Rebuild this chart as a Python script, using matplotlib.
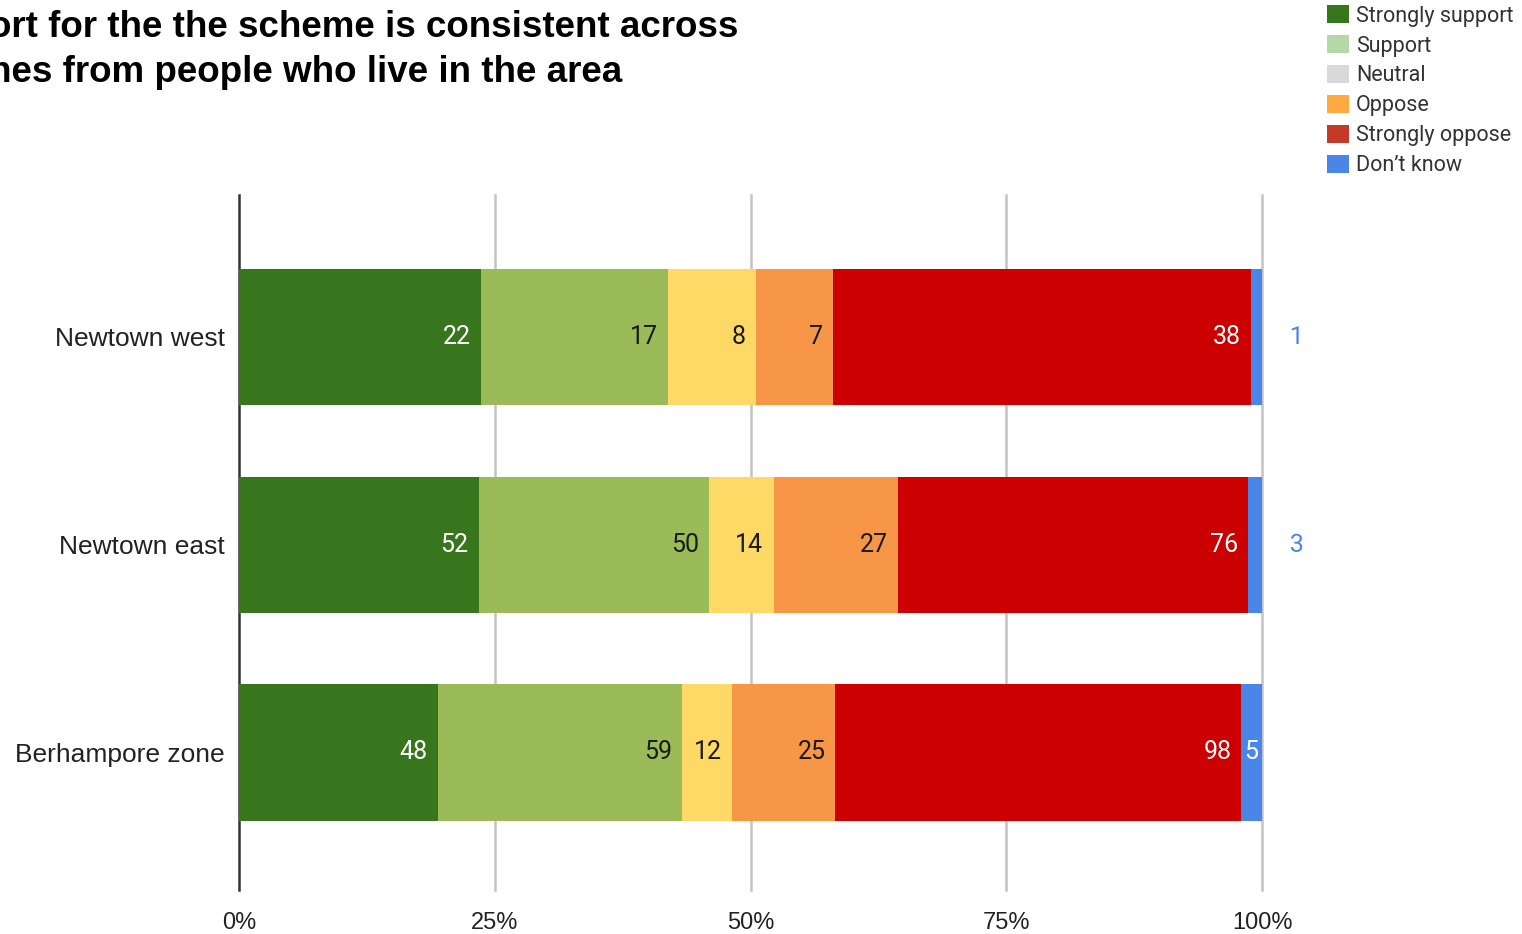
import matplotlib
matplotlib.use('Agg')
import matplotlib.pyplot as plt
from matplotlib.patches import Patch
import matplotlib.patheffects as pe
import numpy as np

# ---------------- data ----------------
categories = ['Newtown west', 'Newtown east', 'Berhampore zone']
series_names = ['Strongly support', 'Support', 'Neutral', 'Oppose',
                'Strongly oppose', 'Don\u2019t know']
strongly_support = [22, 52, 48]
support = [17, 50, 59]
neutral = [8, 14, 12]
oppose = [7, 27, 25]
strongly_oppose = [38, 76, 98]
dont_know = [1, 3, 5]
x_ticks = [0, 0.25, 0.5, 0.75, 1.0]
x_tick_labels = ['0%', '25%', '50%', '75%', '100%']
title_lines = ['Support for the the scheme is consistent across',
               'all zones from people who live in the area']

# ---------------- style ----------------
bar_colors = ['#38761d', '#9bbb59', '#ffd966', '#f79646', '#cc0000', '#4a86e8']
legend_colors = ['#38761d', '#b6d7a8', '#d9d9d9', '#ffab40', '#c53929', '#4a86e8']
label_colors = ['white', '#1a1a1a', '#1a1a1a', '#1a1a1a', 'white', 'white']

plt.rcParams['font.family'] = ['Liberation Sans', 'DejaVu Sans']

W, H = 1522, 934
fig = plt.figure(figsize=(W / 100, H / 100), dpi=100)
ax = fig.add_axes([239 / W, 44 / H, (1262 - 239) / W, (890 - 195) / H])

series = [strongly_support, support, neutral, oppose, strongly_oppose, dont_know]
vals = np.array(series, dtype=float)          # shape (6, 3)
totals = vals.sum(axis=0)
fracs = vals / totals
lefts = np.vstack([np.zeros(len(categories)), np.cumsum(fracs, axis=0)[:-1]])
ypos = np.arange(len(categories))
bar_h = 0.655

ax.set_xlim(0, 1)
ax.set_ylim(2.662, -0.6835)

ax.set_xticks(x_ticks)
ax.set_xticklabels(x_tick_labels)
ax.set_yticks(ypos)
ax.set_yticklabels(categories)
for xv in x_ticks:
    if xv == 0:
        ax.axvline(xv, color='#333333', lw=1.8, zorder=1, clip_on=False)
    else:
        ax.axvline(xv, color='#c4c4c4', lw=1.8, zorder=0, clip_on=False)
for s in ax.spines.values():
    s.set_visible(False)
ax.tick_params(axis='x', length=0, pad=16, labelsize=17, labelcolor='#222222')
ax.tick_params(axis='y', length=0, pad=10, labelsize=19, labelcolor='#222222')

for i in range(len(series)):
    ax.barh(ypos, fracs[i], left=lefts[i], height=bar_h, color=bar_colors[i],
            linewidth=0, zorder=2)

fig.canvas.draw()
renderer = fig.canvas.get_renderer()
px_per_unit = ax.get_window_extent().width  # xlim 0..1

lab_size = 18
for i in range(len(series)):
    for j in range(len(categories)):
        txt = str(int(vals[i, j]))
        end = lefts[i, j] + fracs[i, j]
        seg_px = fracs[i, j] * px_per_unit
        t = ax.text(0, 0, txt, fontsize=lab_size, family='Roboto')
        tw = t.get_window_extent(renderer).width
        t.remove()
        if seg_px >= tw + 18:
            ax.annotate(txt, xy=(end, ypos[j]), xytext=(-7.2, 0),
                        textcoords='offset points', ha='right', va='center',
                        fontsize=lab_size, family='Roboto', color=label_colors[i], zorder=4)
        elif seg_px >= tw:
            ax.annotate(txt, xy=(end - fracs[i, j] / 2, ypos[j]), xytext=(0, 0),
                        textcoords='offset points', ha='center', va='center',
                        fontsize=lab_size, family='Roboto', color=label_colors[i], zorder=4)
        else:
            ax.annotate(txt, xy=(end, ypos[j]), xytext=(20, 0),
                        textcoords='offset points', ha='left', va='center',
                        fontsize=lab_size, family='Roboto', color=bar_colors[i], zorder=4,
                        path_effects=[pe.withStroke(linewidth=3, foreground='white')])

# ---------------- title (clipped at the left edge, as in the source) ----------------
title_size = 26.5
t = fig.text(0, 0, 'Supp', fontsize=title_size, fontweight='bold')
supp_w = t.get_window_extent(renderer).width
t.remove()
title_x = -(supp_w + 11) / W
fig.text(title_x, 1 - 37 / H, title_lines[0], ha='left', va='baseline',
         fontsize=title_size, fontweight='bold', color='#000000')
fig.text(title_x, 1 - 82 / H, title_lines[1], ha='left', va='baseline',
         fontsize=title_size, fontweight='bold', color='#000000')

# ---------------- legend ----------------
handles = [Patch(facecolor=c, edgecolor='none', label=n)
           for c, n in zip(legend_colors, series_names)]
fig.legend(handles=handles, loc='upper left',
           bbox_to_anchor=(1327 / W, 1 - 5 / H), frameon=False,
           prop={'family': 'Roboto', 'size': 15.5}, labelcolor='#333333',
           handlelength=1.02, handleheight=0.93, handletextpad=0.33,
           labelspacing=0.39, borderpad=0, borderaxespad=0)

fig.savefig('out.png', dpi=100)
